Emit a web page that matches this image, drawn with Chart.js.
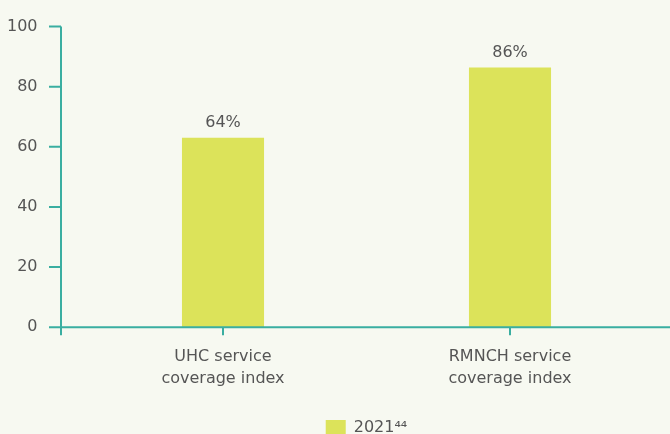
<!DOCTYPE html>
<html>
<head>
<meta charset="utf-8">
<script src="https://cdn.jsdelivr.net/npm/chart.js@4"></script>
<style>
  html, body { margin: 0; padding: 0; background: #f7f9f1; overflow: hidden; }
  canvas { display: block; margin-top: -25px; }
</style>
</head>
<body>
<canvas id="myChart" width="670" height="471"></canvas>
<script>
// data
const categories = [['UHC service', 'coverage index'], ['RMNCH service', 'coverage index']];
const values = [63, 86.4];
const valueLabels = ['64%', '86%'];
const seriesName = '2021\u2074\u2074';
const yTicks = [0, 20, 40, 60, 80, 100];

const teal = '#3aaea1';
const textGrey = '#555555';
const fontFamily = 'DejaVu Sans, sans-serif';

// value labels above bars
const barLabels = {
  id: 'barLabels',
  afterDatasetsDraw(chart) {
    const { ctx } = chart;
    const meta = chart.getDatasetMeta(0);
    ctx.save();
    ctx.font = '16px ' + fontFamily;
    ctx.fillStyle = textGrey;
    ctx.textAlign = 'center';
    ctx.textBaseline = 'bottom';
    meta.data.forEach((bar, i) => {
      ctx.fillText(valueLabels[i], bar.x, bar.y - 7);
    });
    ctx.restore();
  }
};

// teal axis lines with tick marks, extended like the original
const axisLines = {
  id: 'axisLines',
  afterDraw(chart) {
    const { ctx } = chart;
    const x = chart.scales.x;
    const y = chart.scales.y;
    const axisX = 61;
    const zeroY = y.getPixelForValue(0);
    ctx.save();
    ctx.strokeStyle = teal;
    ctx.lineWidth = 2;
    ctx.beginPath();
    ctx.moveTo(axisX, y.getPixelForValue(100));
    ctx.lineTo(axisX, zeroY + 8);
    ctx.moveTo(axisX - 12, zeroY);
    ctx.lineTo(chart.width, zeroY);
    yTicks.forEach(v => {
      const py = y.getPixelForValue(v);
      ctx.moveTo(axisX - 12, py);
      ctx.lineTo(axisX, py);
    });
    categories.forEach((c, i) => {
      const px = x.getPixelForValue(i);
      ctx.moveTo(px, zeroY);
      ctx.lineTo(px, zeroY + 8);
    });
    ctx.stroke();
    ctx.restore();
  }
};

const config = {
  type: 'bar',
  data: {
    labels: categories,
    datasets: [{
      label: seriesName,
      data: values,
      backgroundColor: '#dce35a',
      borderWidth: 0,
      barPercentage: 0.286,
      categoryPercentage: 1
    }]
  },
  options: {
    responsive: false,
    animation: false,
    layout: { padding: { top: 0, right: 16.5, left: 0, bottom: 0 } },
    scales: {
      x: {
        grid: { display: false, drawTicks: false },
        border: { display: false },
        ticks: {
          padding: 18,
          color: textGrey,
          font: { size: 16, family: fontFamily, lineHeight: 1.4 },
          maxRotation: 0
        }
      },
      y: {
        min: 0,
        max: 100,
        afterFit(scale) { scale.width = 79.5; },
        grid: { display: false, drawTicks: false },
        border: { display: false },
        ticks: {
          stepSize: 20,
          padding: 42,
          color: textGrey,
          font: { size: 16, family: fontFamily }
        }
      }
    },
    plugins: {
      tooltip: { enabled: false },
      legend: {
        position: 'bottom',
        fullSize: false,
        labels: {
          boxWidth: 20,
          boxHeight: 16,
          padding: 12,
          color: textGrey,
          font: { size: 16, family: fontFamily }
        }
      }
    }
  },
  plugins: [barLabels, axisLines]
};

const myChart = new Chart(document.getElementById('myChart'), config);
</script>
</body>
</html>
